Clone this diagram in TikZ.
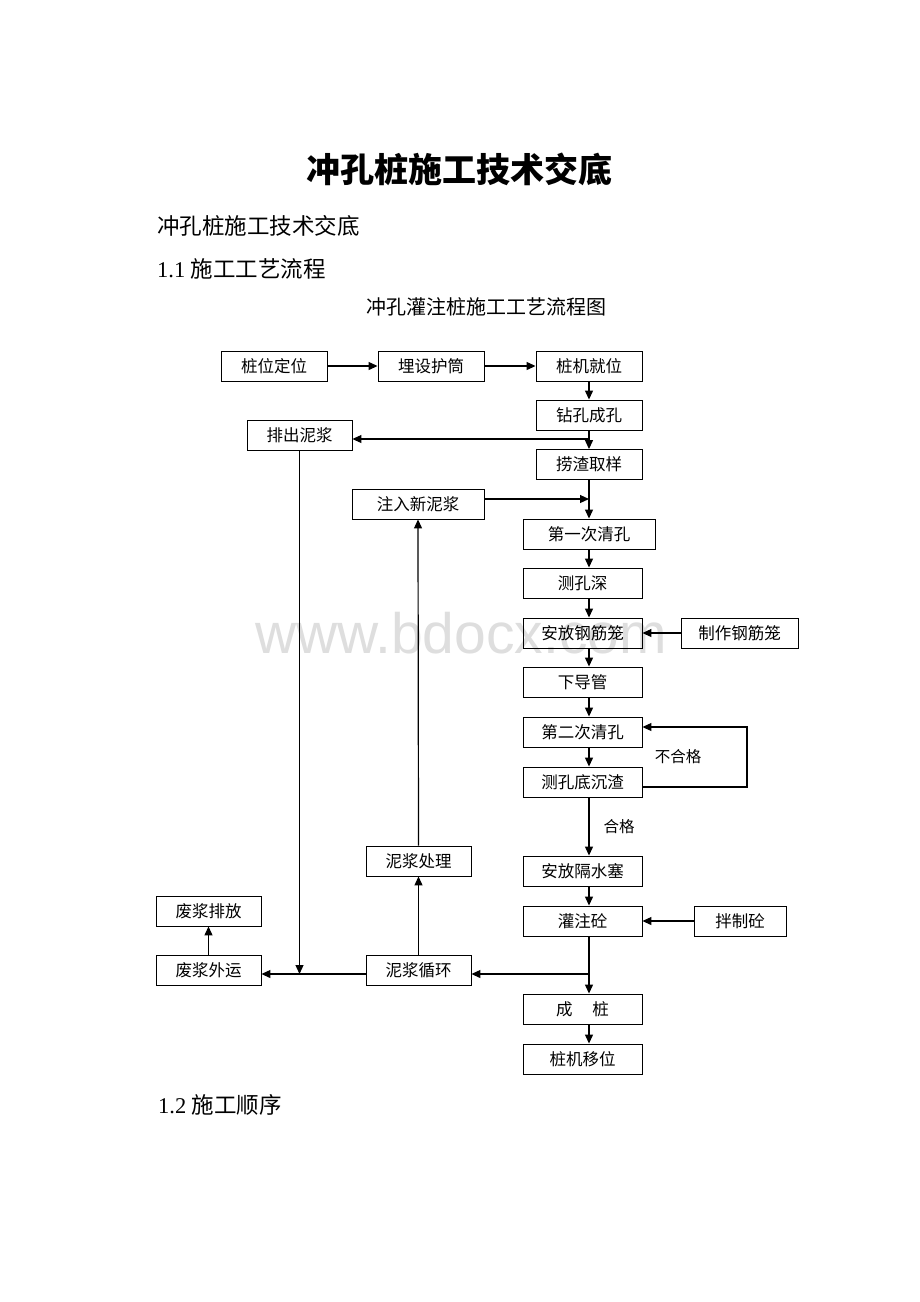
\documentclass[tikz,border=0pt]{standalone}
\usepackage{fontspec}
\setmainfont{Liberation Serif}
\newfontfamily\cjk{Noto Sans CJK SC}
\newfontfamily\wmfont{Liberation Sans}
\usetikzlibrary{arrows.meta}
\begin{document}
\begin{tikzpicture}[x=1pt,y=-1pt,
  box/.style={draw, line width=0.9pt, inner sep=0pt, minimum height=30pt, font=\cjk\fontsize{16.5}{17}\selectfont},
  arr/.style={line width=1.2pt, -{Triangle[length=9pt,width=8pt]}},
  ln/.style={line width=1.2pt},
  lbl/.style={inner sep=0pt, font=\cjk\fontsize{15.5}{16}\selectfont}]
\useasboundingbox[fill=white] (0,0) rectangle (920,1302);
% watermark
\node[inner sep=0pt, anchor=base, text=black!13, font=\wmfont\fontsize{57}{60}\selectfont] (wm) at (461,653) {www.bdocx.com};
% headings
\node[inner sep=0pt, font=\cjk\bfseries\fontsize{34}{36}\selectfont] (title) at (459,169) {冲孔桩施工技术交底};
\node[inner sep=0pt, anchor=west, font=\cjk\fontsize{22.5}{24}\selectfont] (sub) at (157,226) {冲孔桩施工技术交底};
\node[inner sep=0pt, anchor=west, font=\fontsize{22.5}{24}\selectfont] (h11) at (157,269) {1.1 {\cjk 施工工艺流程}};
\node[inner sep=0pt, font=\cjk\fontsize{20}{22}\selectfont] (ftitle) at (486,307) {冲孔灌注桩施工工艺流程图};
\node[inner sep=0pt, anchor=west, font=\fontsize{22.5}{24}\selectfont] (h12) at (158,1105) {1.2 {\cjk 施工顺序}};
% boxes
\node[box, minimum width=106pt] (zwdw) at (274,366) {桩位定位};
\node[box, minimum width=106pt] (msht) at (431,366) {埋设护筒};
\node[box, minimum width=106pt] (zjjw) at (589,366) {桩机就位};
\node[box, minimum width=106pt] (zkck) at (589,415) {钻孔成孔};
\node[box, minimum width=106pt] (lzqy) at (589,464.5) {捞渣取样};
\node[box, minimum width=105pt] (pcnj) at (299.5,435) {排出泥浆};
\node[box, minimum width=132pt] (zrxnj) at (418,504) {注入新泥浆};
\node[box, minimum width=132pt] (dyc) at (589,534) {第一次清孔};
\node[box, minimum width=119pt] (ckshen) at (582.5,583) {测孔深};
\node[box, minimum width=119pt] (afgjl) at (582.5,633) {安放钢筋笼};
\node[box, minimum width=117pt] (zzgjl) at (739.5,633) {制作钢筋笼};
\node[box, minimum width=119pt] (xdg) at (582.5,682) {下导管};
\node[box, minimum width=119pt] (decq) at (582.5,732) {第二次清孔};
\node[box, minimum width=119pt] (ckdcz) at (582.5,782) {测孔底沉渣};
\node[box, minimum width=119pt] (afgss) at (582.5,871) {安放隔水塞};
\node[box, minimum width=119pt] (gzt) at (582.5,921) {灌注砼};
\node[box, minimum width=92pt] (bzt) at (740,921) {拌制砼};
\node[box, minimum width=119pt] (cz) at (582.5,1009) {成\hspace{1.2em}桩};
\node[box, minimum width=119pt] (zjyw) at (582.5,1059) {桩机移位};
\node[box, minimum width=105pt] (njcl) at (418.5,861) {泥浆处理};
\node[box, minimum width=105pt] (fjpf) at (208.5,911) {废浆排放};
\node[box, minimum width=105pt] (fjwy) at (208.5,970) {废浆外运};
\node[box, minimum width=105pt] (njxh) at (418.5,970) {泥浆循环};
% helper coordinates
\coordinate (col) at (589,0);
\coordinate (j1) at (589,439);
\coordinate (j2) at (589,499);
\coordinate (j3) at (589,974);
\coordinate (lpx) at (747,0);
\coordinate (lpt) at (0,727);
\coordinate (lpb) at (0,787);
% top row
\draw[arr] (zwdw.east) -- (msht.west);
\draw[arr] (msht.east) -- (zjjw.west);
\draw[arr] (zjjw.south) -- (zkck.north);
\draw[arr] (zkck.south) -- (lzqy.north);
\draw[arr] (j1) -- (pcnj.east |- j1);
\draw[arr] (zrxnj.east |- j2) -- (j2);
\draw[arr] (lzqy.south) -- (dyc.north);
\draw[arr] (dyc.south -| col) -- (ckshen.north -| col);
\draw[arr] (ckshen.south -| col) -- (afgjl.north -| col);
\draw[arr] (zzgjl.west) -- (afgjl.east);
\draw[arr] (afgjl.south -| col) -- (xdg.north -| col);
\draw[arr] (xdg.south -| col) -- (decq.north -| col);
\draw[arr] (decq.south -| col) -- (ckdcz.north -| col);
% loop
\draw[arr] (ckdcz.east |- lpb) -- (lpx |- lpb) -- (lpx |- lpt) -- (decq.east |- lpt);
\node[lbl] (bhg) at (678,757) {不合格};
\draw[arr] (ckdcz.south -| col) -- node[lbl, pos=0.5, right=14pt] (hg) {合格} (afgss.north -| col);
\draw[arr] (afgss.south -| col) -- (gzt.north -| col);
\draw[arr] (bzt.west) -- (gzt.east);
\draw[arr] (gzt.south -| col) -- (cz.north -| col);
\draw[arr] (cz.south -| col) -- (zjyw.north -| col);
% mud circulation
\draw[arr] (j3) -- (njxh.east |- j3);
\draw[arr] (njxh.west |- j3) -- (fjwy.east |- j3);
\draw[arr] (pcnj.south) -- (pcnj.south |- j3);
\draw[arr] (njxh.north) -- (njcl.south);
\draw[arr] (njcl.north) -- (zrxnj.south);
\draw[arr] (fjwy.north) -- (fjpf.south);
\end{tikzpicture}
\end{document}
